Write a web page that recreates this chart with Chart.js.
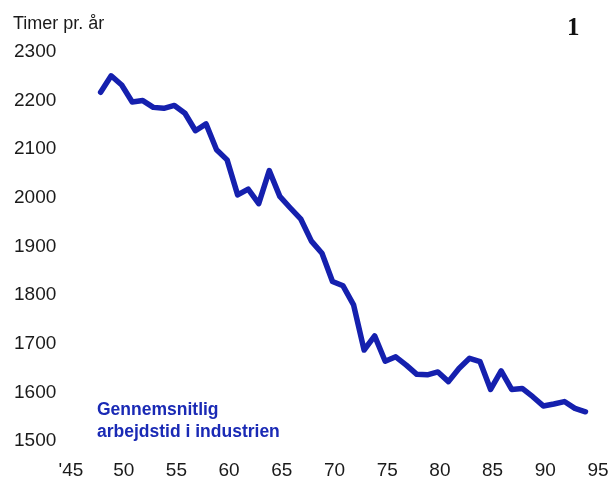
<!DOCTYPE html>
<html>
<head>
<meta charset="utf-8">
<script src="https://cdn.jsdelivr.net/npm/chart.js@4.4.1/dist/chart.umd.min.js"></script>
<style>
    body { margin: 0; background: #fff; }
    #wrap { position: relative; width: 608px; height: 481px; }
    .txt { position: absolute; white-space: nowrap; font-family: "Liberation Sans", Arial, sans-serif; }
    #unit { left: 13px; top: 13px; font-size: 18px; color: #1a1a1a; }
    #num { left: 567px; top: 13px; font-family: "Liberation Serif", serif; font-weight: bold; font-size: 25px; color: #111; }
    #label { left: 97px; top: 398px; font-size: 17.5px; line-height: 22px; font-weight: bold; color: #1a2ab5; }
</style>
</head>
<body>
<div id="wrap">
    <canvas id="hoursChart" width="608" height="481"></canvas>
    <div class="txt" id="unit">Timer pr. år</div>
    <div class="txt" id="num">1</div>
    <div class="txt" id="label">Gennemsnitlig<br>arbejdstid i industrien</div>
</div>
<script>
// Gennemsnitlig arbejdstid i industrien, timer pr. år
const years = [
    1948, 1949, 1950, 1951, 1952, 1953, 1954, 1955, 1956, 1957,
    1958, 1959, 1960, 1961, 1962, 1963, 1964, 1965, 1966, 1967,
    1968, 1969, 1970, 1971, 1972, 1973, 1974, 1975, 1976, 1977,
    1978, 1979, 1980, 1981, 1982, 1983, 1984, 1985, 1986, 1987,
    1988, 1989, 1990, 1991, 1992, 1993, 1994,
];
const hours = [
    2213, 2247, 2228, 2193, 2196, 2182, 2180, 2186, 2170, 2134,
    2148, 2095, 2074, 2002, 2014, 1984, 2052, 1999, 1975, 1952,
    1907, 1882, 1824, 1815, 1776, 1683, 1712, 1660, 1669, 1652,
    1633, 1632, 1638, 1618, 1645, 1666, 1659, 1602, 1640, 1602,
    1604, 1587, 1568, 1572, 1577, 1563, 1556,
];
const xTicks = [45, 50, 55, 60, 65, 70, 75, 80, 85, 90, 95];
const yTicks = [1500, 1600, 1700, 1800, 1900, 2000, 2100, 2200, 2300];

const lineColor = "#1520ae";
const tickFont = { family: "Liberation Sans", size: 19 };

const ctx = document.getElementById("hoursChart");
new Chart(ctx.getContext("2d"), {
    type: "line",
    data: {
        datasets: [
            {
                label: "Gennemsnitlig arbejdstid i industrien",
                data: years.map((y, i) => ({ x: y - 1900, y: hours[i] })),
                borderColor: lineColor,
                borderWidth: 5.5,
                borderJoinStyle: "round",
                borderCapStyle: "round",
                pointRadius: 0,
                tension: 0,
                fill: false,
            },
        ],
    },
    options: {
        responsive: false,
        animation: false,
        devicePixelRatio: 1,
        layout: {
            padding: { left: 14, right: 12, top: 50, bottom: 0 },
        },
        plugins: {
            legend: { display: false },
            tooltip: { enabled: false },
        },
        scales: {
            x: {
                type: "linear",
                min: 45,
                max: 95,
                border: { display: false },
                grid: { display: false, drawTicks: false },
                afterBuildTicks: (scale) => {
                    scale.ticks = xTicks.map((v) => ({ value: v }));
                },
                afterFit: (scale) => {
                    scale.height = 42;
                    scale.paddingLeft = 0;
                    scale.paddingRight = 0;
                },
                ticks: {
                    font: tickFont,
                    color: "#1a1a1a",
                    padding: 20,
                    labelOffset: 2,
                    maxRotation: 0,
                    autoSkip: false,
                    callback: (v) => (v === 45 ? "'45" : String(v)),
                },
            },
            y: {
                min: 1500,
                max: 2300,
                border: { display: false },
                grid: { display: false, drawTicks: false },
                afterBuildTicks: (scale) => {
                    scale.ticks = yTicks.map((v) => ({ value: v }));
                },
                afterFit: (scale) => {
                    scale.width = 55;
                    scale.paddingTop = 0;
                    scale.paddingBottom = 0;
                },
                ticks: {
                    font: tickFont,
                    color: "#1a1a1a",
                    crossAlign: "far",
                    labelOffset: 2,
                    autoSkip: false,
                    callback: (v) => String(v),
                },
            },
        },
    },
});
</script>
</body>
</html>
